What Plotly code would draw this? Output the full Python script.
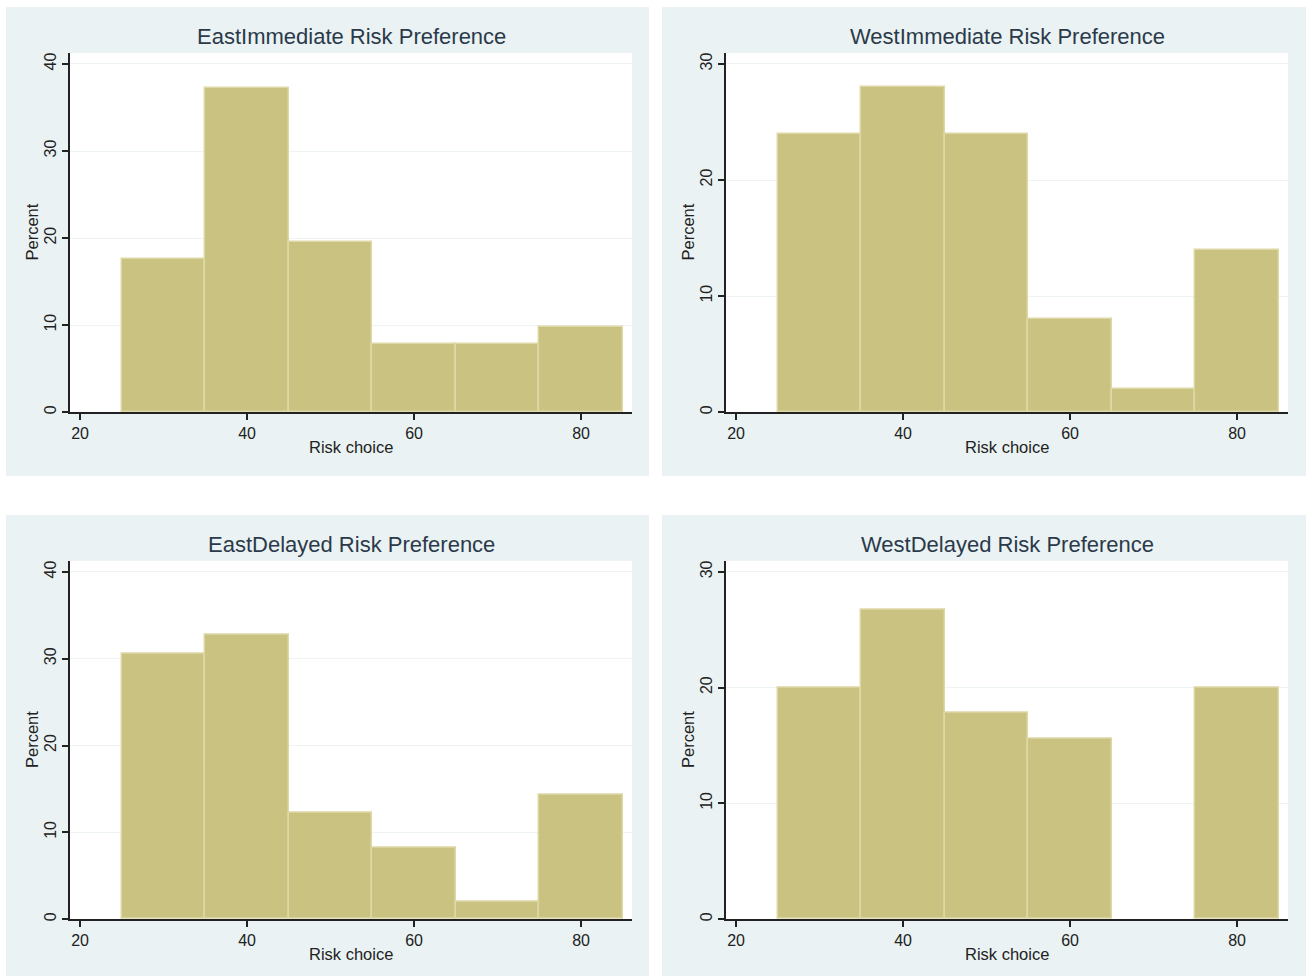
import plotly.graph_objects as go

# ---- data ----
bin_centers = [30, 40, 50, 60, 70, 80]
east_immediate = [17.6, 37.3, 19.6, 7.8, 7.8, 9.8]
west_immediate = [24.0, 28.0, 24.0, 8.0, 2.0, 14.0]
east_delayed = [30.6, 32.7, 12.2, 8.2, 2.0, 14.3]
west_delayed = [20.0, 26.7, 17.8, 15.6, 0.0, 20.0]

titles = ["EastImmediate Risk Preference", "WestImmediate Risk Preference",
          "EastDelayed Risk Preference", "WestDelayed Risk Preference"]
series = [east_immediate, west_immediate, east_delayed, west_delayed]
x_ticks = [20, 40, 60, 80]
y_ticks_east = [0, 10, 20, 30, 40]
y_ticks_west = [0, 10, 20, 30]
y_max = [41.27, 30.95, 41.27, 30.95]
x_label = "Risk choice"
y_label = "Percent"

W, H = 1306, 979
def px(x): return x / W
def py(y): return 1 - y / H

# plot area pixel boxes (left, right, top, bottom)
plot_boxes = [(70, 632, 53, 413), (726, 1288, 53, 413),
              (70, 632, 562, 921), (726, 1288, 562, 921)]
bg_boxes = [(6, 649, 7, 477), (662, 1306, 7, 477),
            (6, 649, 516, 978), (662, 1306, 516, 978)]

BAR = "#C9C280"
BAR_EDGE = "#DED8A6"
BG = "#EAF2F3"
TITLE_C = "#2B3A4A"
TEXT_C = "#222222"
FONT = "Liberation Sans, Arial"

fig = go.Figure()
shapes = []
annotations = []
layout = {}
for i in range(4):
    ax = "" if i == 0 else str(i + 1)
    l, r, t, b = plot_boxes[i]
    edge_w = [1.5 if v > 0 else 0 for v in series[i]]
    fig.add_trace(go.Bar(
        x=bin_centers, y=series[i], width=10,
        marker=dict(color=BAR, line=dict(color=BAR_EDGE, width=edge_w)),
        xaxis="x" + ax, yaxis="y" + ax, showlegend=False, hoverinfo="x+y"))
    yt = y_ticks_east if i % 2 == 0 else y_ticks_west
    layout["xaxis" + ax] = dict(
        domain=[px(l), px(r)], anchor="y" + ax, range=[18.8, 86.1],
        tickvals=x_ticks, ticks="outside", ticklen=6, tickwidth=1.5,
        tickcolor=TEXT_C, showgrid=False, zeroline=False, showline=True,
        linecolor=TEXT_C, linewidth=2,
        tickfont=dict(family=FONT, size=16, color=TEXT_C))
    layout["yaxis" + ax] = dict(
        domain=[py(b), py(t)], anchor="x" + ax, range=[0, y_max[i]],
        tickvals=yt, ticks="outside", ticklen=6, tickwidth=1.5,
        tickcolor=TEXT_C, showgrid=True, gridcolor="#EEF3F3", gridwidth=1,
        zeroline=False, showline=True, linecolor=TEXT_C, linewidth=2,
        tickangle=-90,
        tickfont=dict(family=FONT, size=16, color=TEXT_C))
    bl, br, bt, bb = bg_boxes[i]
    shapes.append(dict(type="rect", xref="paper", yref="paper",
                       x0=px(bl), x1=px(br), y0=py(bb), y1=py(bt),
                       fillcolor=BG, line=dict(width=0), layer="below"))
    shapes.append(dict(type="rect", xref="paper", yref="paper",
                       x0=px(l), x1=px(r), y0=py(b), y1=py(t),
                       fillcolor="white", line=dict(width=0), layer="below"))
    cx = (l + r) / 2
    annotations.append(dict(text=titles[i], xref="paper", yref="paper",
                            x=px(cx), y=py(bt + 30), xanchor="center", yanchor="middle",
                            showarrow=False,
                            font=dict(family=FONT, size=22, color=TITLE_C)))
    annotations.append(dict(text=x_label, xref="paper", yref="paper",
                            x=px(cx), y=py(b + 35), xanchor="center", yanchor="middle",
                            showarrow=False,
                            font=dict(family=FONT, size=16.5, color=TEXT_C)))
    annotations.append(dict(text=y_label, xref="paper", yref="paper",
                            x=px(l - 38), y=py((t + b) / 2), xanchor="center", yanchor="middle",
                            textangle=-90, showarrow=False,
                            font=dict(family=FONT, size=16.5, color=TEXT_C)))

fig.update_layout(
    width=W, height=H, margin=dict(l=0, r=0, t=0, b=0),
    paper_bgcolor="white", plot_bgcolor="rgba(0,0,0,0)",
    bargap=0, shapes=shapes, annotations=annotations, **layout)

fig.write_html("out.html",
               config={"displayModeBar": False},
               post_script="document.body.style.margin='0px';"
                           "document.body.style.overflow='hidden';"
                           "document.documentElement.style.overflow='hidden';")
